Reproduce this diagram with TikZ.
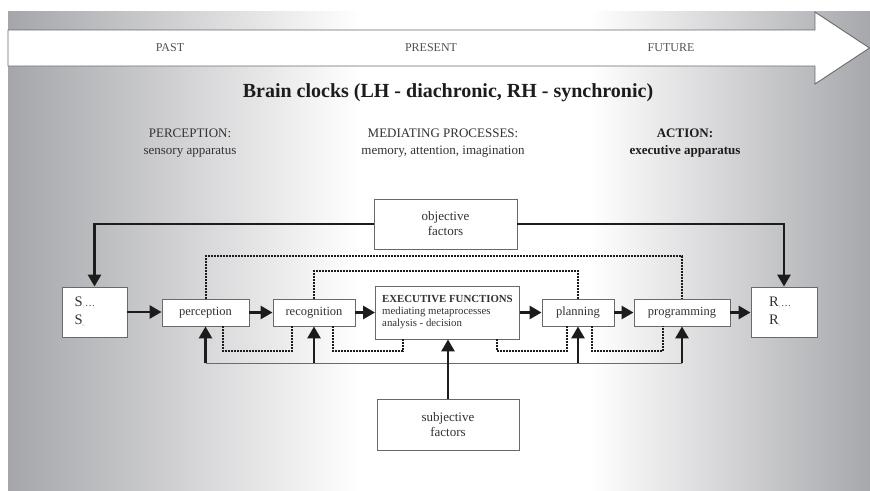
\documentclass[tikz,border=0pt]{standalone}
\usepackage{fontspec}
\setmainfont{Liberation Serif}
\usetikzlibrary{arrows.meta}
\definecolor{bgdark}{RGB}{165,166,170}
\definecolor{bgdarkr}{RGB}{167,168,172}
\definecolor{boxline}{RGB}{105,105,105}
\definecolor{txt}{RGB}{50,50,50}
\definecolor{ink}{RGB}{28,28,28}
\begin{document}
\begin{tikzpicture}[x=1pt,y=-1pt,
  box/.style={draw=boxline, fill=white, line width=0.9pt, inner sep=0pt, text=txt, align=center},
  flow/.style={draw=ink, line width=2.8pt, -{Triangle[length=12pt,width=13pt]}},
  fb/.style={draw=ink, line width=2pt, dash pattern=on 2pt off 1pt},
  thinline/.style={draw=ink!65, line width=1pt},
  lbl/.style={text=txt, inner sep=0pt, align=center}]
\useasboundingbox (0,0) rectangle (870,490);
% background
\fill[white] (0,0) rectangle (870,490);
\shade[left color=bgdark, right color=white] (8,11) rectangle (360,490);
\fill[white] (359.5,11) rectangle (590.5,490);
\shade[left color=white, right color=bgdarkr] (590,11) rectangle (870,490);
% time arrow
\draw[draw=boxline, fill=white, line width=0.9pt]
  (8,30) -- (815,30) -- (815,12) -- (869.5,48) -- (815,84) -- (815,66) -- (8,66) -- cycle;
\node[lbl, text=txt!85, font=\fontsize{12}{14}\selectfont] (past) at (170,48) {PAST};
\node[lbl, text=txt!85, font=\fontsize{12}{14}\selectfont] (present) at (431,48) {PRESENT};
\node[lbl, text=txt!85, font=\fontsize{12}{14}\selectfont] (future) at (671,48) {FUTURE};
% title and headers
\node[lbl, text=ink, font=\fontsize{20}{24}\selectfont\bfseries] (title) at (448,93)
  {Brain clocks (LH - diachronic, RH - synchronic)};
\node[lbl, font=\fontsize{13}{17}\selectfont] (hperc) at (190,143)
  {PERCEPTION:\\sensory apparatus};
\node[lbl, font=\fontsize{13}{17}\selectfont] (hmed) at (443,143)
  {MEDIATING PROCESSES:\\memory, attention, imagination};
\node[lbl, text=ink, font=\fontsize{13}{17}\selectfont\bfseries] (hact) at (685,143)
  {ACTION:\\executive apparatus};
% boxes
\node[box, minimum width=65pt, minimum height=50pt, text width=40pt, align=left,
  font=\fontsize{14.5}{18}\selectfont] (S) at (94.5,312)
  {S\textsubscript{\textcolor{gray!60}{\fontsize{4}{4}\selectfont 1}}{\fontsize{10}{10}\selectfont\ldots}\\S\textsubscript{\textcolor{gray!60}{\fontsize{4}{4}\selectfont n}}};
\node[box, minimum width=87pt, minimum height=27pt, font=\fontsize{12.5}{14}\selectfont] (perception) at (205.5,312.5) {perception};
\node[box, minimum width=82pt, minimum height=27pt, font=\fontsize{12.5}{14}\selectfont] (recognition) at (314,312.5) {recognition};
\node[box, minimum width=144pt, minimum height=53pt, align=left, font=\fontsize{10.8}{12}\selectfont] (exec) at (447.5,312.5)
  {\textbf{EXECUTIVE FUNCTIONS}\\mediating metaprocesses\\analysis - decision};
\node[box, minimum width=72pt, minimum height=27pt, font=\fontsize{12.5}{14}\selectfont] (planning) at (578,312.5) {planning};
\node[box, minimum width=96pt, minimum height=27pt, font=\fontsize{12.5}{14}\selectfont] (programming) at (682,312.5) {programming};
\node[box, minimum width=66pt, minimum height=50pt, text width=30pt, align=left,
  font=\fontsize{14.5}{18}\selectfont] (R) at (784,312)
  {R\textsubscript{\textcolor{gray!60}{\fontsize{4}{4}\selectfont 1}}{\fontsize{10}{10}\selectfont\ldots}\\R\textsubscript{\textcolor{gray!60}{\fontsize{4}{4}\selectfont n}}};
\node[box, minimum width=143pt, minimum height=50pt, font=\fontsize{13}{15}\selectfont] (objective) at (445.5,224) {objective\\factors};
\node[box, minimum width=142pt, minimum height=51pt, font=\fontsize{13}{15}\selectfont] (subjective) at (448,424.5) {subjective\\factors};
% helper coordinates
\coordinate (t1) at (0,256);
\coordinate (t2) at (0,271);
\coordinate (b1) at (0,351);
\coordinate (b2) at (0,363);
% top feedback loops
\draw[fb] (perception.north) -- (perception.north |- t1) -- (programming.north |- t1) -- (programming.north);
\draw[fb] (recognition.north) -- (recognition.north |- t2) -- (planning.north |- t2) -- (planning.north);
% bottom feedback loops
\draw[fb] ([xshift=17.5pt]perception.south) -- ([xshift=17.5pt]perception.south |- b1)
  -- ([xshift=-22pt]recognition.south |- b1) -- ([xshift=-22pt]recognition.south);
\draw[fb] ([xshift=19pt]recognition.south) -- ([xshift=19pt]recognition.south |- b1)
  -- ([xshift=-44.5pt]exec.south |- b1) -- ([xshift=-44.5pt]exec.south);
\draw[fb] ([xshift=49.5pt]exec.south) -- ([xshift=49.5pt]exec.south |- b1)
  -- ([xshift=-11pt]planning.south |- b1) -- ([xshift=-11pt]planning.south);
\draw[fb] ([xshift=14pt]planning.south) -- ([xshift=14pt]planning.south |- b1)
  -- ([xshift=-19pt]programming.south |- b1) -- ([xshift=-19pt]programming.south);
% bottom thin line and up arrows
\draw[thinline] (perception.south |- b2) -- (programming.south |- b2);
\draw[flow] (perception.south |- b2) -- (perception.south);
\draw[flow] (recognition.south |- b2) -- (recognition.south);
\draw[flow] (planning.south |- b2) -- (planning.south);
\draw[flow] (programming.south |- b2) -- (programming.south);
\draw[flow] (subjective.north) -- (subjective.north |- exec.south);
% main flow
\draw[flow] (S.east) -- (perception.west |- S.east);
\draw[flow] (perception.east) -- (recognition.west);
\draw[flow] (recognition.east) -- (exec.west);
\draw[flow] (exec.east) -- (planning.west);
\draw[flow] (planning.east) -- (programming.west);
\draw[flow] (programming.east) -- (R.west |- programming.east);
% objective factors
\draw[flow] (objective.west) -| (S.north);
\draw[flow] (objective.east) -| (R.north);
\end{tikzpicture}
\end{document}
